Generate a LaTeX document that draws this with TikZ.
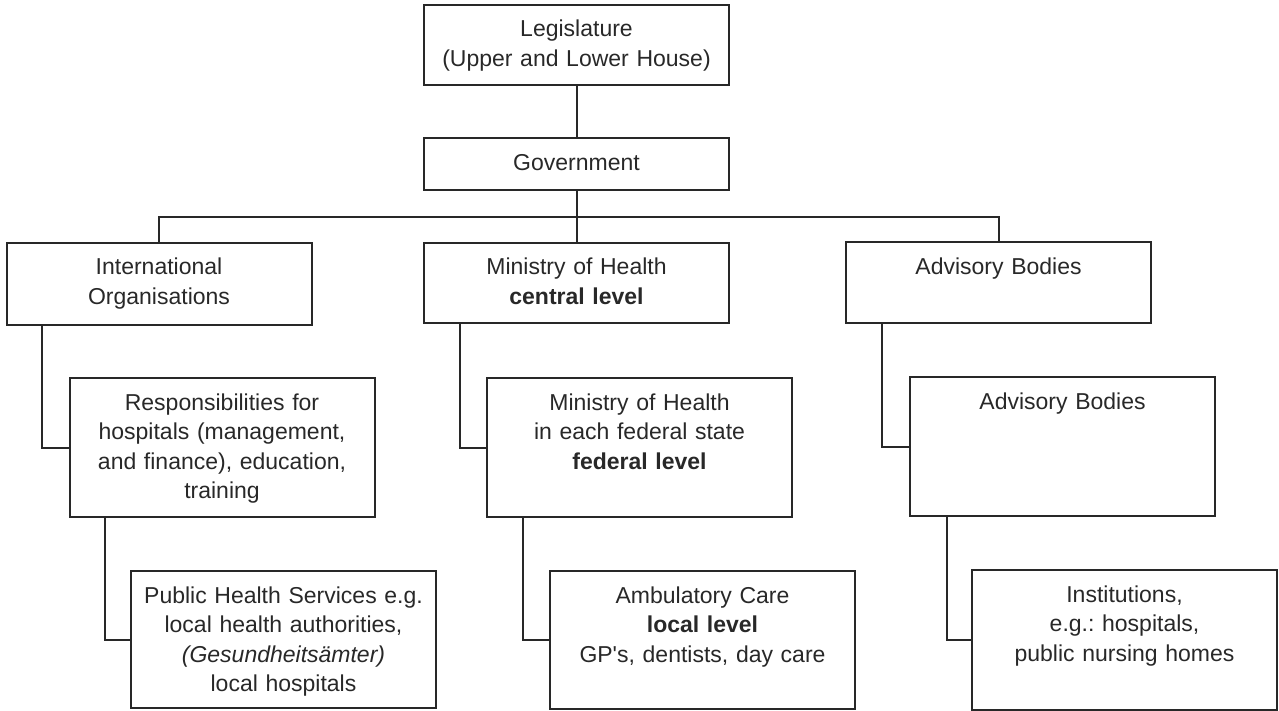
\documentclass[tikz,border=0pt]{standalone}
\usepackage{fontspec}
\setmainfont{Liberation Sans}
\newfontfamily\plainsans{Liberation Sans}
\usetikzlibrary{positioning}
\definecolor{ink}{RGB}{40,40,40}

\begin{document}
\begin{tikzpicture}[x=0.5pt,y=-0.5pt,color=ink,line width=1pt,
    every node/.style={draw,inner sep=0pt,text width=152.5pt,align=center,
        text height=16pt,font=\fontsize{11.5}{14.75}\selectfont\frenchspacing},
    short/.style={text depth=24pt},
    tall/.style={text depth=53.5pt}]

    \useasboundingbox (0,0) rectangle (1279,711);

    \node[short] (leg) at (576.5,45) {Legislature\\(Upper and Lower House)};
    \node[text height=16.5pt,text depth=9.5pt] (gov) at (576.5,164) {Government};
    \draw (leg) -- (gov);

    \coordinate (bus) at (576.5,217);
    \node[short,text depth=25pt] (intl) at (159,284) {International\\Organisations};
    \node[short] (mohc) at (576.5,283) {Ministry of Health\\\textbf{central level}};
    \node[short,text depth=24.5pt] (adv) at (998.5,282.5) {Advisory Bodies};
    \draw (gov) -- (mohc);
    \draw (intl.north) |- (bus) -| (adv.north);

    \node[tall] (resp) at (222,447.5) {Responsibilities for\\hospitals (management,\\and finance), education,\\training};
    \node[tall] (mohf) at (639.5,447.5) {Ministry of Health\\in each federal state\\\textbf{federal level}};
    \node[tall] (adv2) at (1062.5,446.5) {Advisory Bodies};
    \draw ([xshift=18pt]intl.south west) |- (resp.west);
    \draw ([xshift=18.5pt]mohc.south west) |- (mohf.west);
    \draw ([xshift=18.5pt]adv.south west) |- (adv2.west);

    \node[text depth=52.5pt] (phs) at (283.5,639.5) {Public Health Services e.g.\\local health authorities,\\\textit{(Gesundheitsämter)}\\local hospitals};
    \node[text depth=53pt] (amb) at (702.5,640) {Ambulatory Care\\\textbf{local level}\\GP{\plainsans'}s, dentists, day care};
    \node[text depth=54pt] (inst) at (1124.5,640) {Institutions,\\e.g.: hospitals,\\public nursing homes};
    \draw ([xshift=18pt]resp.south west) |- (phs.west);
    \draw ([xshift=18.5pt]mohf.south west) |- (amb.west);
    \draw ([xshift=19pt]adv2.south west) |- (inst.west);

\end{tikzpicture}
\end{document}
